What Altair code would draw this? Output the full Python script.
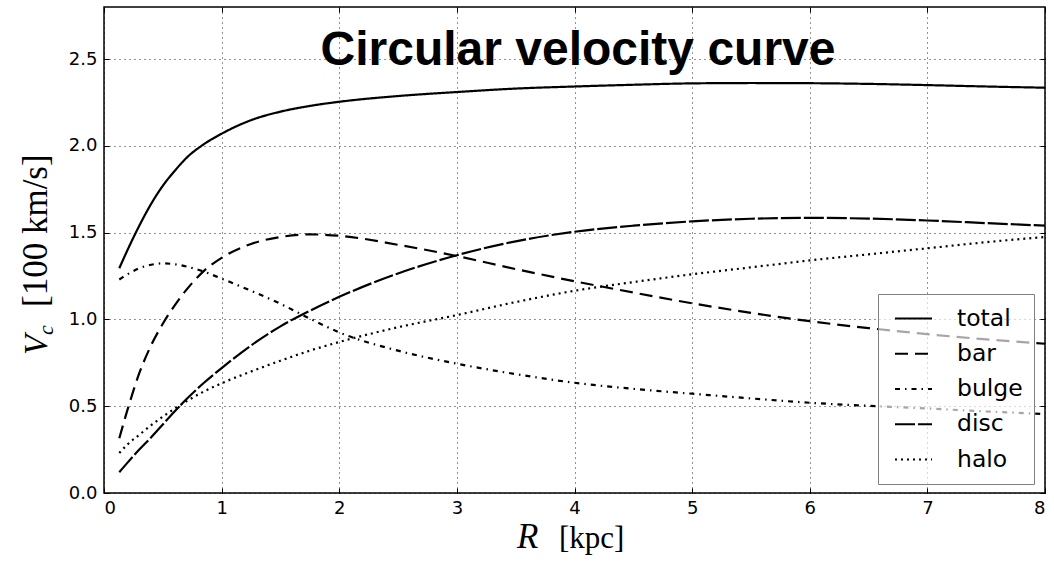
import altair as alt
import pandas as pd

# radius grid [kpc]
R = [0.13, 0.2, 0.3, 0.4, 0.5, 0.6, 0.7, 0.85, 1.0, 1.25, 1.5, 1.75, 2.0, 2.5,
     3.0, 3.5, 4.0, 4.5, 5.0, 5.5, 6.0, 6.5, 7.0, 7.5, 8.0]

total = [1.295, 1.40, 1.54, 1.665, 1.77, 1.855, 1.93, 2.01, 2.07, 2.148, 2.197, 2.23, 2.254, 2.287,
         2.31, 2.33, 2.342, 2.352, 2.36, 2.362, 2.361, 2.357, 2.35, 2.342, 2.335]
bar = [0.315, 0.48, 0.69, 0.85, 0.975, 1.08, 1.17, 1.28, 1.355, 1.435, 1.475, 1.49, 1.482, 1.43,
       1.365, 1.29, 1.22, 1.155, 1.093, 1.038, 0.99, 0.95, 0.915, 0.885, 0.86]
bulge = [1.23, 1.26, 1.295, 1.315, 1.323, 1.318, 1.305, 1.275, 1.235, 1.165, 1.09, 1.005, 0.925, 0.82,
         0.745, 0.685, 0.635, 0.60, 0.572, 0.545, 0.52, 0.502, 0.487, 0.47, 0.455]
disc = [0.12, 0.175, 0.25, 0.32, 0.395, 0.47, 0.54, 0.635, 0.72, 0.85, 0.96, 1.05, 1.13, 1.265,
        1.37, 1.45, 1.505, 1.54, 1.565, 1.58, 1.585, 1.581, 1.57, 1.555, 1.54]
halo = [0.23, 0.28, 0.335, 0.39, 0.44, 0.485, 0.528, 0.585, 0.632, 0.70, 0.762, 0.82, 0.87, 0.955,
        1.025, 1.10, 1.165, 1.215, 1.26, 1.30, 1.34, 1.375, 1.41, 1.445, 1.475]

series_names = ["total", "bar", "bulge", "disc", "halo"]
series_vals = [total, bar, bulge, disc, halo]
dashes = [[1, 0], [13, 7], [5, 5, 1.5, 5], [20, 3], [2, 4]]

x_ticks = [0, 1, 2, 3, 4, 5, 6, 7, 8]
y_ticks = [0.0, 0.5, 1.0, 1.5, 2.0, 2.5]

rows = []
for name, vals in zip(series_names, series_vals):
    for r, v in zip(R, vals):
        rows.append({"R": r, "v": v, "series": name})
df = pd.DataFrame(rows)

W, H = 941, 486
xs = alt.Scale(domain=[0, 8], nice=False, zero=False)
ys = alt.Scale(domain=[0, 2.8], nice=False, zero=False)

tick_font = "DejaVu Sans"

x_axis = alt.Axis(values=x_ticks, format="d", title=None, grid=True, gridColor="black",
                  gridDash=[1, 4], gridOpacity=0.85, gridWidth=1, domain=False,
                  ticks=True, tickSize=5, tickColor="black", tickWidth=1, offset=-5,
                  labelPadding=6, labelFont=tick_font, labelFontSize=18, labelColor="black")
y_axis = alt.Axis(values=y_ticks, format=".1f", title=None, grid=True, gridColor="black",
                  gridDash=[1, 4], gridOpacity=0.85, gridWidth=1, domain=False,
                  ticks=True, tickSize=5, tickColor="black", tickWidth=1, offset=-5,
                  labelPadding=7, labelFont=tick_font, labelFontSize=18, labelColor="black")
x_top = alt.Axis(values=x_ticks, orient="top", labels=False, title=None, grid=False,
                 domain=False, tickSize=5, tickColor="black", tickWidth=1, offset=-5)
y_right = alt.Axis(values=y_ticks, orient="right", labels=False, title=None, grid=False,
                   domain=False, tickSize=5, tickColor="black", tickWidth=1, offset=-5)

legend = alt.Legend(
    title=None, orient="none", legendX=774, legendY=287,
    symbolType="stroke", symbolSize=1369, symbolStrokeWidth=2, symbolStrokeColor="black",
    labelFont=tick_font, labelFontSize=23.5, labelColor="black", labelOffset=24,
    strokeColor="#808080", fillColor="rgba(255,255,255,0.65)",
    padding=11, symbolOffset=5, clipHeight=27, rowPadding=8.25,
)

lines = alt.Chart(df).mark_line(color="black", strokeWidth=2.2, interpolate="monotone").encode(
    x=alt.X("R:Q", scale=xs, axis=x_axis),
    y=alt.Y("v:Q", scale=ys, axis=y_axis),
    strokeDash=alt.StrokeDash("series:N", scale=alt.Scale(domain=series_names, range=dashes),
                              legend=legend),
    detail="series:N",
)

frame_ticks = alt.Chart(df).mark_point(opacity=0).encode(
    x=alt.X("R:Q", scale=xs, axis=x_top),
    y=alt.Y("v:Q", scale=ys, axis=y_right),
)

def label(txt, x, y, size, font, style="normal", weight="normal", angle=0, align="left"):
    return alt.Chart(pd.DataFrame({"t": [txt]})).mark_text(
        font=font, fontSize=size, fontStyle=style, fontWeight=weight, angle=angle,
        align=align, baseline="alphabetic", color="black",
    ).encode(text="t:N", x=alt.value(x), y=alt.value(y))

title = label("Circular velocity curve", 474, 58, 48, "Liberation Sans", weight="bold", align="center")
xt1 = label("R", 413, 541, 35, "Liberation Serif", style="italic")
xt2 = label("[kpc]", 455, 541, 31, "Liberation Serif")
yt1 = label("V", -57, 348, 33, "Liberation Serif", style="italic", angle=270)
yt2 = label("c", -51, 328, 22, "Liberation Serif", style="italic", angle=270)
yt3 = label("[100 km/s]", -57, 300, 35, "Liberation Serif", angle=270)

chart = alt.layer(lines, frame_ticks, title, xt1, xt2, yt1, yt2, yt3).resolve_axis(
    x="independent", y="independent"
).properties(
    width=W, height=H,
    autosize=alt.AutoSizeParams(type="none"),
    padding={"left": 104, "top": 7, "right": 9, "bottom": 71},
    background="white",
).configure_view(stroke="black", strokeWidth=1.5)

chart.save("out.html", embed_options={"renderer": "svg", "actions": False})
